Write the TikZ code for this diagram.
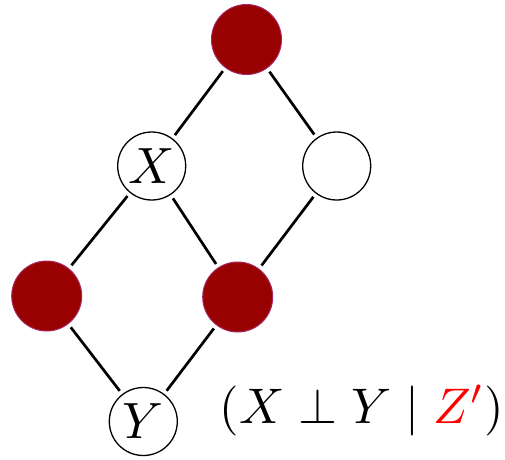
\documentclass[tikz,border=0pt]{standalone}
\usepackage{graphicx}
\usepackage{xcolor}
\definecolor{dred}{RGB}{153,0,0}
\definecolor{dredborder}{RGB}{165,40,100}
\begin{document}
\begin{tikzpicture}[x=1pt,y=-1pt,
  rednode/.style={circle,fill=dred,draw=dredborder,line width=1pt,minimum size=70pt,inner sep=0pt},
  whitenode/.style={circle,fill=white,draw=black,line width=1.3pt,minimum size=68pt,inner sep=0pt},
  edge/.style={line width=2.7pt,shorten >=4pt,shorten <=4pt}]
\useasboundingbox (0,0) rectangle (505,459);
\node[rednode] (top) at (246.5,39.5) {};
\node[whitenode] (x) at (151.7,166) {\scalebox{5.1}{$X$}};
\node[whitenode] (r) at (336.7,166) {};
\node[rednode] (l) at (46.7,296) {};
\node[rednode] (m) at (237.7,297) {};
\node[whitenode] (y) at (143.3,421.5) {\scalebox{5.1}{$Y$}};
\draw[edge] (top) -- (x);
\draw[edge] (top) -- (r);
\draw[edge] (x) -- (l);
\draw[edge] (x) -- (m);
\draw[edge] (r) -- (m);
\draw[edge] (l) -- (y);
\draw[edge] (m) -- (y);
\node[anchor=base,inner sep=0pt] (lab) at (362,423) {\scalebox{5.0}{$(X \perp Y \mid {\color{red}Z'})$}};
\end{tikzpicture}
\end{document}
